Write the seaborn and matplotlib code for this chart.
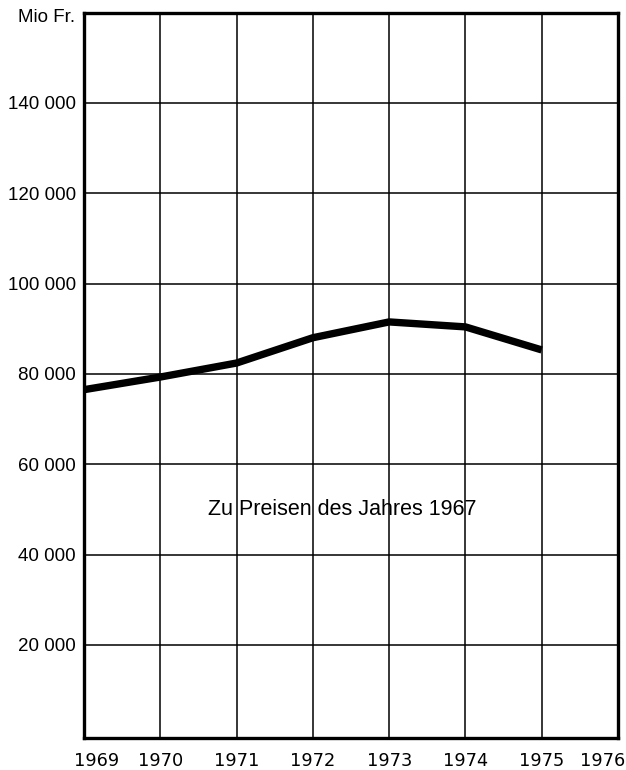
import numpy as np
import pandas as pd
import seaborn as sns
import matplotlib.pyplot as plt
from matplotlib.transforms import ScaledTranslation

# Mio Fr., at 1967 prices
years = [1969, 1970, 1971, 1972, 1973, 1974, 1975]
values = [76500, 79300, 82400, 88000, 91500, 90400, 85300]

x_ticks = [1969, 1970, 1971, 1972, 1973, 1974, 1975, 1976]
y_ticks = [20000, 40000, 60000, 80000, 100000, 120000, 140000]
y_labels = ["20 000", "40 000", "60 000", "80 000", "100 000", "120 000", "140 000"]

df = pd.DataFrame({"year": years, "value": values})

sns.set_style("white")
plt.rcParams["font.family"] = ["Liberation Sans", "DejaVu Sans"]
plt.rcParams["text.color"] = "black"
plt.rcParams["xtick.color"] = "black"
plt.rcParams["ytick.color"] = "black"

fig = plt.figure(figsize=(6.26, 7.7), dpi=100)
ax = fig.add_axes([0.1342, 0.0416, 0.853, 0.9416])

sns.lineplot(data=df, x="year", y="value", color="black", linewidth=5.3,
             solid_capstyle="butt", ax=ax)

ax.set_xlim(1969, 1976)
ax.set_ylim(-600, 159900)
ax.set_xticks(x_ticks)
ax.set_xticklabels([str(y) for y in x_ticks], fontsize=12.8, family="DejaVu Sans")
ax.set_yticks(y_ticks)
ax.set_yticklabels(y_labels, fontsize=13.5)
ax.tick_params(axis="x", length=0, pad=10, labelcolor="black")
ax.tick_params(axis="y", length=3, width=1.2, color="black", pad=3, labelcolor="black")

ax.grid(True, color="black", linewidth=1.1)
for side in ["top", "left", "bottom", "right"]:
    ax.spines[side].set_visible(True)
    ax.spines[side].set_color("black")
    ax.spines[side].set_linewidth(2.4)

# first and last year labels sit off their gridlines
labels = ax.get_xticklabels()
labels[0].set_transform(labels[0].get_transform() + ScaledTranslation(13 / 100, 0, fig.dpi_scale_trans))
labels[-1].set_transform(labels[-1].get_transform() + ScaledTranslation(-15 / 100, 0, fig.dpi_scale_trans))

ax.set_xlabel("")
ax.set_ylabel("")

ax.text(1972.39, 49900, "Zu Preisen des Jahres 1967", fontsize=15.5,
        ha="center", va="center", color="black")

fig.text(75 / 626, 1 - 18 / 770, "Mio Fr.", fontsize=13.5, ha="right", va="center",
         color="black")

fig.savefig("out.png", dpi=100)
